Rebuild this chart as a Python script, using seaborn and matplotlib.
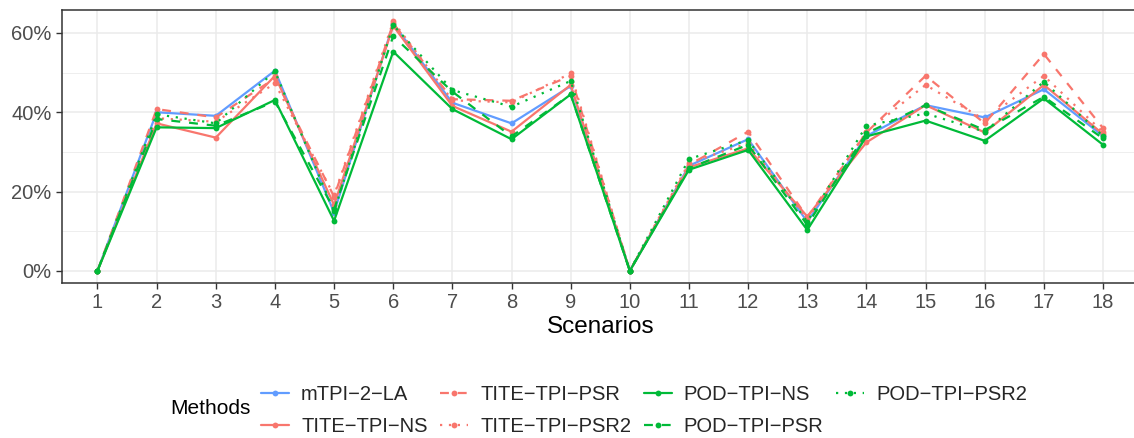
import matplotlib
matplotlib.use("Agg")
import matplotlib.pyplot as plt
from matplotlib.lines import Line2D
from matplotlib.ticker import PercentFormatter, MultipleLocator
import numpy as np
import pandas as pd
import seaborn as sns

# Scenario labels and per-method selection percentages
scenarios = list(range(1, 19))
methods = ["mTPI\u22122\u2212LA", "TITE\u2212TPI\u2212NS", "TITE\u2212TPI\u2212PSR",
           "TITE\u2212TPI\u2212PSR2", "POD\u2212TPI\u2212NS", "POD\u2212TPI\u2212PSR",
           "POD\u2212TPI\u2212PSR2"]

mtpi_2_la = [0, 40.0, 39.1, 50.5, 14.7, 62.3, 42.4, 37.2, 46.6, 0,
             26.5, 33.2, 12.4, 34.0, 41.8, 38.7, 45.8, 34.0]
tite_tpi_ns = [0, 37.2, 33.6, 49.2, 16.6, 61.8, 41.6, 35.1, 46.9, 0,
               26.1, 30.9, 13.7, 32.4, 41.8, 34.9, 46.9, 34.5]
tite_tpi_psr = [0, 40.8, 38.7, 48.6, 18.7, 62.4, 43.3, 42.9, 49.2, 0,
                26.7, 35.1, 13.5, 34.9, 49.2, 37.2, 54.7, 36.0]
tite_tpi_psr2 = [0, 38.5, 37.6, 47.3, 19.0, 62.9, 43.0, 42.5, 49.8, 0,
                 27.2, 32.2, 13.0, 35.1, 46.9, 38.1, 49.2, 35.0]
pod_tpi_ns = [0, 36.2, 36.0, 43.1, 12.6, 55.3, 40.8, 33.2, 44.5, 0,
              25.5, 30.5, 10.3, 33.9, 37.9, 32.8, 43.5, 31.8]
pod_tpi_psr = [0, 38.3, 36.6, 42.7, 15.5, 59.2, 45.2, 33.9, 44.5, 0,
               25.9, 31.8, 11.6, 34.7, 41.8, 35.5, 43.9, 33.4]
pod_tpi_psr2 = [0, 39.5, 37.2, 50.3, 15.0, 62.0, 45.6, 41.4, 47.9, 0,
                28.2, 33.0, 12.4, 36.6, 39.7, 35.1, 47.7, 34.0]

series = [mtpi_2_la, tite_tpi_ns, tite_tpi_psr, tite_tpi_psr2,
          pod_tpi_ns, pod_tpi_psr, pod_tpi_psr2]

blue, red, green = "#619CFF", "#F8766D", "#00BA38"
palette = dict(zip(methods, [blue, red, red, red, green, green, green]))
solid, dashed, dotted = "", (4, 4), (1, 3)
dashes = dict(zip(methods, [solid, solid, dashed, dotted, solid, dashed, dotted]))

df = pd.DataFrame({
    "Scenario": np.tile(scenarios, len(methods)),
    "Value": np.concatenate(series),
    "Method": np.repeat(methods, len(scenarios)),
})

sns.set_theme(style="white")
plt.rcParams["font.family"] = ["Liberation Sans", "DejaVu Sans"]

fig = plt.figure(figsize=(11.34, 4.38), dpi=100)
ax = fig.add_axes([62 / 1134, 1 - 282.7 / 438, (1138.5 - 62) / 1134, (282.7 - 10) / 438])

lw = 1.6
sns.lineplot(data=df, x="Scenario", y="Value", hue="Method", style="Method",
             palette=palette, dashes=dashes, markers=dict.fromkeys(methods, "o"),
             hue_order=methods, style_order=methods,
             linewidth=lw, markersize=4.2, markeredgewidth=0,
             legend=False, ax=ax, zorder=3)

ax.set_xlim(0.4, 18.6)
ax.set_ylim(-3.0, 65.8)
ax.set_xticks(scenarios)
ax.set_xticklabels([str(s) for s in scenarios])
ax.yaxis.set_major_locator(MultipleLocator(20))
ax.yaxis.set_minor_locator(MultipleLocator(10))
ax.yaxis.set_major_formatter(PercentFormatter(decimals=0))

ax.grid(which="major", color="#EBEBEB", linewidth=1.1, zorder=0)
ax.grid(which="minor", axis="y", color="#EBEBEB", linewidth=0.6, zorder=0)
ax.set_axisbelow(True)

for s in ax.spines.values():
    s.set_color("#333333")
    s.set_linewidth(1.1)

ax.tick_params(axis="both", which="major", bottom=True, left=True,
               length=4.1, width=1.0, color="#333333",
               labelsize=14.5, labelcolor="#4D4D4D", pad=3.3, direction="out")
ax.tick_params(axis="y", which="minor", left=False, length=0)

ax.set_xlabel("Scenarios", fontsize=17.5, color="black", labelpad=3)
ax.set_ylabel("")

handles = [Line2D([0], [0], color=palette[m], linewidth=lw,
                  linestyle=(0, dashes[m]) if dashes[m] else "-",
                  marker="o", markersize=4.2, markeredgewidth=0)
           for m in methods]
leg = fig.legend(handles, methods, ncol=4, loc="center left",
                 bbox_to_anchor=(261 / 1134, (438 - 410.5) / 438),
                 frameon=False, fontsize=14.5, handlelength=1.39,
                 handletextpad=0.6, columnspacing=0.62, labelspacing=0.68,
                 borderpad=0, borderaxespad=0)
fig.text(170 / 1134, (438 - 409) / 438, "Methods", fontsize=15,
         va="center", ha="left", color="black")

fig.savefig("out.png", dpi=100)
